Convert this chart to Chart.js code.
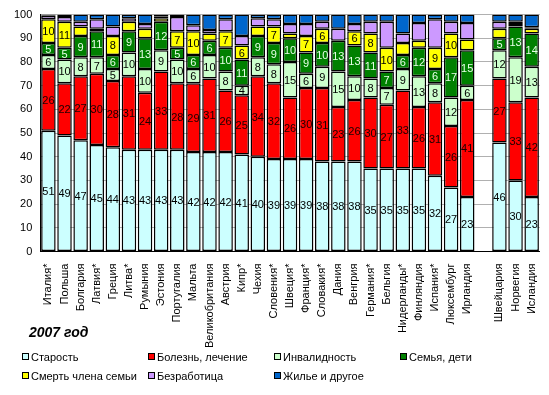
<!DOCTYPE html>
<html>
<head>
<meta charset="utf-8">
<script src="https://cdn.jsdelivr.net/npm/chart.js@4"></script>
<style>
  body { margin: 0; background: #fff; }
  #wrap { position: relative; width: 549px; height: 395px; font-family: "Liberation Sans", Arial, sans-serif; }
  #box { position: absolute; left: 0; top: 0; width: 549px; height: 352px; }
  #year { position: absolute; left: 29px; top: 324px; font-size: 14px; font-weight: bold; font-style: italic; }
  .leg { position: absolute; font-size: 11px; white-space: nowrap; line-height: 13px; }
  .leg i { display: inline-block; width: 5px; height: 5px; border: 1px solid #000; margin-right: 2px; vertical-align: 1px; }
</style>
</head>
<body>
<div id="wrap">
  <div id="box"><canvas id="myChart"></canvas></div>
  <div id="year">2007 год</div>
  <div id="legend"></div>
</div>
<script>
const countries = ['Италия*', 'Польша', 'Болгария', 'Латвия*', 'Греция', 'Литва*', 'Румыния', 'Эстония',
  'Португалия', 'Мальта', 'Великобритания', 'Австрия', 'Кипр*', 'Чехия', 'Словения*', 'Швеция*',
  'Франция*', 'Словакия*', 'Дания', 'Венгрия', 'Германия*', 'Бельгия', 'Нидерланды*', 'Финляндия',
  'Испания*', 'Люксембург', 'Ирландия', '', 'Швейцария', 'Норвегия', 'Исландия'];

const oldAge = [51, 49, 47, 45, 44, 43, 43, 43, 43, 42, 42, 42, 41, 40, 39, 39, 39, 38, 38, 38, 35, 35, 35, 35, 32, 27, 23, null, 46, 30, 23];
const illness = [26, 22, 27, 30, 28, 31, 24, 33, 28, 29, 31, 26, 25, 34, 32, 26, 30, 31, 23, 26, 30, 27, 33, 26, 31, 26, 41, null, 27, 33, 42];
const disability = [6, 10, 8, 7, 5, 10, 10, 9, 10, 6, 10, 8, 4, 8, 8, 15, 6, 9, 15, 10, 8, 7, 9, 13, 8, 12, 6, null, 12, 19, 13];
const family = [5, 5, 9, 11, 6, 9, 13, 12, 5, 6, 6, 10, 11, 9, 9, 10, 9, 10, 13, 13, 11, 7, 6, 12, 6, 17, 15, null, 5, 13, 14];
const survivors = [10, 11, 4, 1, 8, 4, 4, 1.5, 7, 10, 3, 7, 6, 4, 7, 2, 7, 6, 0, 6, 8, 10, 5, 3, 9, 10, 4.5, null, 4, 1, 2];
const unemployment = [1.5, 2, 2, 4, 4, 1.5, 2, 0.8, 6, 2.5, 1.5, 5, 4, 3.5, 3, 4, 5, 3, 5, 3, 5, 11, 4, 7.5, 12, 5, 7, null, 3, 1, 0.7];
const housing = [0.5, 1, 3, 2, 5, 1.5, 4, 0.7, 1, 4.5, 6.5, 2, 9, 1.5, 2, 4, 4, 3, 6, 4, 3, 3, 8, 3.5, 2, 3, 3.5, null, 3, 3, 5.3];

const seriesNames = ['Старость', 'Болезнь, лечение', 'Инвалидность', 'Семья, дети',
  'Смерть члена семьи', 'Безработица', 'Жилье и другое'];
const seriesData = [oldAge, illness, disability, family, survivors, unemployment, housing];
const colors = ['#CCFFFF', '#FF0000', '#CCFFCC', '#008000', '#FFFF00', '#CC99FF', '#0066CC'];
const labelColors = ['#000', '#1a0000', '#000', '#e8ffe8', '#000', null, null];
const minLabel = [1, 1, 1, 1, 5.5, 999, 999];

// legend in two rows of four columns
const legend = document.getElementById('legend');
seriesNames.forEach(function (name, i) {
  const item = document.createElement('div');
  item.className = 'leg';
  item.style.left = (22 + (i % 4) * 126) + 'px';
  item.style.top = (i < 4 ? 351 : 370) + 'px';
  item.innerHTML = '<i style="background:' + colors[i] + '"></i>' + name;
  legend.appendChild(item);
});

const barLabels = {
  id: 'barLabels',
  afterDatasetsDraw(chart) {
    const c = chart.ctx;
    c.save();
    c.font = '11px "Liberation Sans", Arial, sans-serif';
    c.textAlign = 'center';
    c.textBaseline = 'middle';
    chart.data.datasets.forEach(function (ds, i) {
      if (!labelColors[i]) return;
      const meta = chart.getDatasetMeta(i);
      meta.data.forEach(function (bar, j) {
        const v = ds.data[j];
        if (v == null || v < minLabel[i]) return;
        c.fillStyle = labelColors[i];
        c.fillText(String(v), bar.x, (bar.y + bar.base) / 2 + 1);
      });
    });
    c.restore();
  },
};

const ctx = document.getElementById('myChart');
new Chart(ctx, {
  type: 'bar',
  data: {
    labels: countries,
    datasets: seriesData.map(function (d, i) {
      return {
        label: seriesNames[i],
        data: d,
        backgroundColor: colors[i],
        borderColor: '#000',
        borderWidth: 1.5,
        borderSkipped: false,
        categoryPercentage: 1,
        barPercentage: 0.9,
      };
    }),
  },
  options: {
    responsive: true,
    maintainAspectRatio: false,
    animation: false,
    layout: { padding: { left: 6, right: 9, top: 9, bottom: 0 } },
    plugins: { legend: { display: false }, tooltip: { enabled: false } },
    scales: {
      x: {
        stacked: true,
        grid: { display: false },
        border: { color: '#000' },
        ticks: {
          color: '#000',
          font: { family: '"Liberation Sans", Arial', size: 11 },
          maxRotation: 90,
          minRotation: 90,
          autoSkip: false,
          padding: 4,
        },
      },
      y: {
        stacked: true,
        min: 0,
        max: 100,
        grid: { color: '#b0b0b0', drawTicks: false },
        border: { color: '#000' },
        ticks: {
          stepSize: 10,
          color: '#000',
          padding: 8,
          font: { family: '"Liberation Sans", Arial', size: 11 },
        },
      },
    },
  },
  plugins: [barLabels],
});
</script>
</body>
</html>
